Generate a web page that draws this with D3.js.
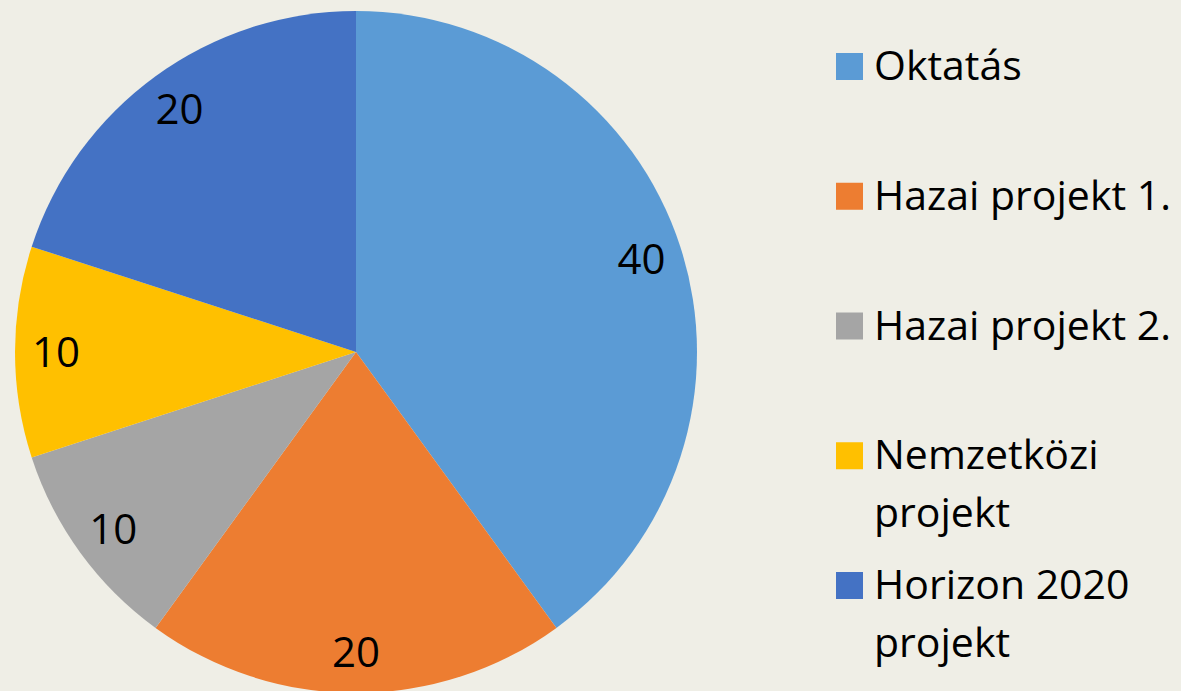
<!DOCTYPE html>
<html lang="hu">
    <head>
        <meta charset="utf-8">
        <title>Pie</title>
        <script src="https://d3js.org/d3.v7.min.js"></script>
        <style type="text/css">
            body {
                margin: 0;
                background: #efeee6;
            }
            .labels {
                font-family: "Open Sans", sans-serif;
                font-size: 42px;
                fill: #000;
            }
            .legend {
                font-family: "Open Sans", sans-serif;
                font-size: 41px;
                fill: #000;
            }
        </style>
    </head>
    <body>
        <svg width="1181" height="691"></svg>
        <script type="text/javascript">

            const categories = ["Oktatás", "Hazai projekt 1.", "Hazai projekt 2.", "Nemzetközi projekt", "Horizon 2020 projekt"];
            const values = [40, 20, 10, 10, 20];
            const colors = ["#5b9bd5", "#ed7d31", "#a5a5a5", "#ffc000", "#4472c4"];
            // legend lines (wrapped like the original)
            const legendLines = [["Oktatás"], ["Hazai projekt 1."], ["Hazai projekt 2."], ["Nemzetközi", "projekt"], ["Horizon 2020", "projekt"]];

            const svg = d3.select("svg");

            const cx = 356;
            const cy = 352;
            const radius = 341;

            const color = d3.scaleOrdinal().domain(categories).range(colors);

            const pie = d3.pie().sort(null).value(d => d.value);
            const data = categories.map((c, i) => ({name: c, value: values[i]}));

            const arc = d3.arc().innerRadius(0).outerRadius(radius);
            const labelArc = d3.arc().innerRadius(radius * 0.88).outerRadius(radius * 0.88);

            const g = svg.append("g")
                .attr("transform", "translate(" + cx + "," + cy + ")");

            //slices
            g.selectAll("path")
                .data(pie(data))
                .enter()
                .append("path")
                .attr("fill", d => color(d.data.name))
                .attr("d", arc);

            //labels
            g.selectAll("text")
                .data(pie(data))
                .enter()
                .append("text")
                .attr("class", "labels")
                .attr("transform", d => "translate(" + labelArc.centroid(d) + ")")
                .attr("text-anchor", "middle")
                .attr("dy", "0.36em")
                .text(d => d.value);

            //legend
            const legendY = d3.scalePoint().domain(categories).range([53, 572]);

            const items = svg.selectAll("g.legend-item")
                .data(categories)
                .enter()
                .append("g")
                .attr("class", "legend-item")
                .attr("transform", d => "translate(836," + legendY(d) + ")");

            items.append("rect")
                .attr("width", 27)
                .attr("height", 27)
                .attr("fill", d => color(d));

            items.append("text")
                .attr("class", "legend")
                .attr("x", 38)
                .attr("y", 27)
                .selectAll("tspan")
                .data((d, i) => legendLines[i])
                .enter()
                .append("tspan")
                .attr("x", 38)
                .attr("dy", (d, i) => i === 0 ? 0 : 58)
                .text(d => d);

        </script>
    </body>
</html>
